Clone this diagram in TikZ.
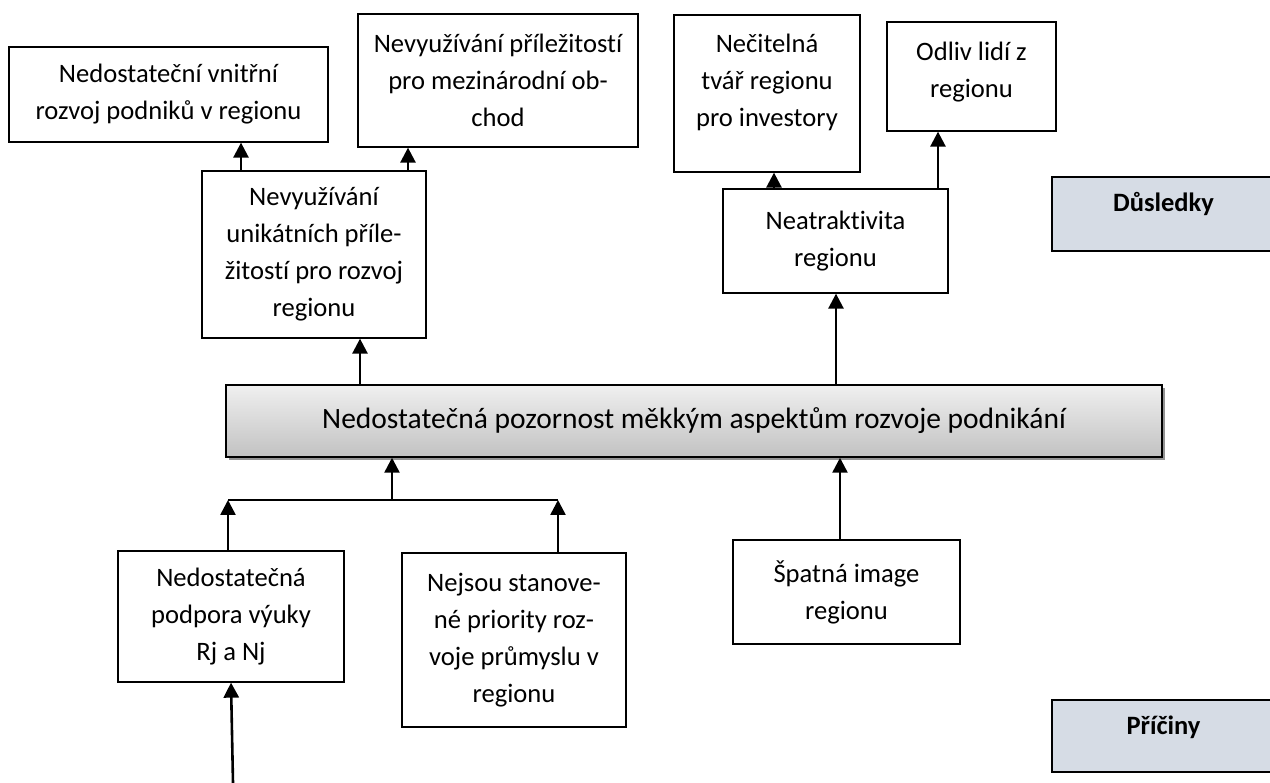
\documentclass[tikz,border=0pt]{standalone}
\usepackage{fontspec}
\setmainfont{Carlito}[Ligatures=NoCommon]
\usetikzlibrary{arrows.meta,shadows}
\definecolor{catfill}{HTML}{D6DCE5}
\begin{document}
\begin{tikzpicture}[x=1pt,y=-1pt,
  box/.style={draw=black,line width=1.3pt,fill=white,inner sep=0pt,align=center,font=\fontsize{26.6}{37}\selectfont},
  mainbox/.style={draw=black,line width=1.5pt,top color=gray!12,bottom color=gray!48,inner sep=0pt,align=center,
    font=\fontsize{29.5}{35}\selectfont,drop shadow={shadow xshift=2.5pt,shadow yshift=-3.5pt,fill=gray!85,opacity=1}},
  catbox/.style={draw=black,line width=1.3pt,fill=catfill,inner sep=0pt,align=center,font=\fontsize{26.5}{30}\selectfont\bfseries},
  arr/.style={line width=2.6pt,-{Triangle[width=15pt,length=15pt]}},
  joint/.style={line width=2pt}
  ]
\useasboundingbox (0,0) rectangle (1270,783);

% consequences
\node[box,minimum width=319pt,minimum height=95pt] (A) at (168.5,94.5) {Nedostateční vnitřní\\rozvoj podniků v regionu};
\node[box,minimum width=280pt,minimum height=133pt] (B) at (498,80.5) {Nevyužívání příležitostí\\pro mezinárodní ob-\\chod};
\node[box,minimum width=224pt,minimum height=167pt] (C) at (314,254.5) {Nevyužívání\\unikátních příle-\\žitostí pro rozvoj\\regionu};
\node[box,minimum width=186pt,minimum height=157pt,text depth=27pt] (D) at (767,93.5) {Nečitelná\\tvář regionu\\pro investory};
\node[box,minimum width=169pt,minimum height=109pt,text depth=14pt] (E) at (971.5,76.5) {Odliv lidí z\\regionu};
\node[box,minimum width=225pt,minimum height=104pt] (F) at (835.5,241) {Neatraktivita\\regionu};

% central problem
\node[mainbox,minimum width=936pt,minimum height=72pt] (M) at (694,421) {Nedostatečná pozornost měkkým aspektům rozvoje podnikání};

% causes
\node[box,minimum width=226pt,minimum height=131pt] (G) at (231,616.5) {Nedostatečná\\podpora výuky\\Rj a Nj};
\node[box,minimum width=224pt,minimum height=174pt] (H) at (514,640) {Nejsou stanove-\\né priority roz-\\voje průmyslu v\\regionu};
\node[box,minimum width=227pt,minimum height=104pt] (I) at (846.5,592) {Špatná image\\regionu};

% category labels
\node[catbox,minimum width=223pt,minimum height=74pt,text depth=24pt] (dus) at (1163.5,214) {Důsledky};
\node[catbox,minimum width=223pt,minimum height=72pt,text depth=22pt] (pri) at (1163.5,736) {Příčiny};

% joint
\coordinate (jl) at (228,500);
\coordinate (jm) at (392,500);
\coordinate (jr) at (558,500);
\coordinate (src) at (233,783);
\draw[joint] (jl) -- (jr);

% arrows
\draw[arr] ([xshift=-73pt]C.north) -- ([xshift=72.5pt]A.south);
\draw[arr] ([xshift=94pt]C.north) -- ([xshift=-90pt]B.south);
\draw[arr] ([xshift=-61.5pt]F.north) -- ([xshift=7pt]D.south);
\draw[arr] ([xshift=102.5pt]F.north) -- ([xshift=-33.5pt]E.south);
\draw[arr] ([xshift=-334pt]M.north) -- ([xshift=46pt]C.south);
\draw[arr] ([xshift=142pt]M.north) -- ([xshift=0.5pt]F.south);
\draw[arr] (jm) -- ([xshift=-302pt]M.south);
\draw[arr] ([xshift=-6.5pt]I.north) -- ([xshift=146pt]M.south);
\draw[arr] ([xshift=-3pt]G.north) -- (jl);
\draw[arr] ([xshift=44pt]H.north) -- (jr);
\draw[arr] (src) -- (G.south);
\end{tikzpicture}
\end{document}
